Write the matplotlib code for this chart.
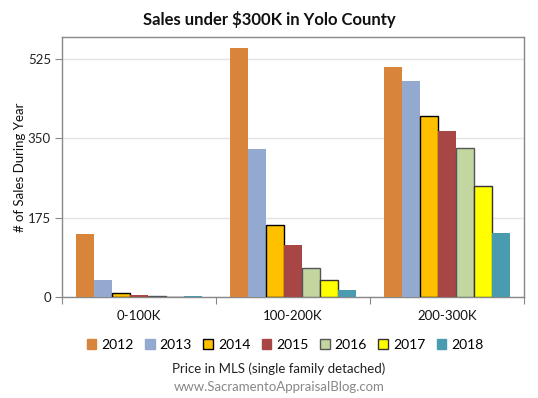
import matplotlib
matplotlib.use("Agg")
import matplotlib.pyplot as plt
import numpy as np
from matplotlib.patches import Patch

categories = ["0-100K", "100-200K", "200-300K"]
years = ["2012", "2013", "2014", "2015", "2016", "2017", "2018"]
values = {
    "2012": [140, 549, 507],
    "2013": [38, 326, 477],
    "2014": [8, 160, 399],
    "2015": [4, 115, 366],
    "2016": [2, 63, 330],
    "2017": [0, 38, 246],
    "2018": [2, 15, 141],
}
yticks = [0, 175, 350, 525]

colors = ["#D9843B", "#93A9CF", "#FFC000", "#A84545", "#C4D6A0", "#FFFF00", "#4A9AB0"]
edges = [None, None, "#000000", None, "#555555", "#333333", None]

plt.rcParams['font.family'] = ['Lato', 'DejaVu Sans']

fig = plt.figure(figsize=(5.38, 3.98), dpi=100)
ax = fig.add_axes([62/538, 1-297/398, (524-62)/538, (297-37)/398])

n = len(years)
bw = 0.1176
x = np.arange(len(categories))
for i, y in enumerate(years):
    off = (i - (n-1)/2) * bw
    if edges[i]:
        kw = dict(edgecolor=edges[i], linewidth=1.0)
    else:
        kw = dict(linewidth=0)
    ax.bar(x + off, values[y], width=bw, color=colors[i], zorder=3, **kw)

ax.set_xlim(-0.5, len(categories) - 0.5)
ax.set_ylim(0, 574)
ax.set_yticks(yticks)
ax.set_yticklabels([str(t) for t in yticks], fontsize=9.5, color="#222222")
ax.yaxis.grid(True, color="#E3E3E3", linewidth=1, zorder=0)
ax.set_axisbelow(True)

ax.set_xticks([-0.5, 0.5, 1.5, 2.5])
ax.set_xticklabels([])
ax.tick_params(axis='x', length=5, color="#888888", direction='out')
ax.tick_params(axis='y', length=5, color="#888888", direction='out', pad=3)
for i, c in enumerate(categories):
    ax.text(i, -0.075, c, transform=ax.get_xaxis_transform(), ha='center', va='center',
            fontsize=9.5, color="#111111")

for s in ax.spines.values():
    s.set_color("#888888")
    s.set_linewidth(1)

ax.set_ylabel("# of Sales During Year", fontsize=9.5, color="#111111", labelpad=1)

fig.text(0.5, 1-20/398, "Sales under $300K in Yolo County", ha='center', va='center',
         fontsize=12, fontweight='bold', color="#111111")

handles = [Patch(facecolor=colors[i], edgecolor=(edges[i] if edges[i] else colors[i]),
                 linewidth=1) for i in range(n)]
fig.legend(handles, years, loc='center', bbox_to_anchor=(285/538, 1-345/398), ncol=n,
           frameon=False, fontsize=10, handlelength=0.7, handleheight=0.7,
           handletextpad=0.35, columnspacing=0.82)

fig.text(0.5 + 10/538, 1-369/398, "Price in MLS (single family detached)", ha='center',
         va='center', fontsize=9.5, color="#222222")
fig.text(0.5 + 10/538, 1-387/398, "www.SacramentoAppraisalBlog.com", ha='center',
         va='center', fontsize=9.5, color="#888888")

fig.savefig("out.png", dpi=100)
